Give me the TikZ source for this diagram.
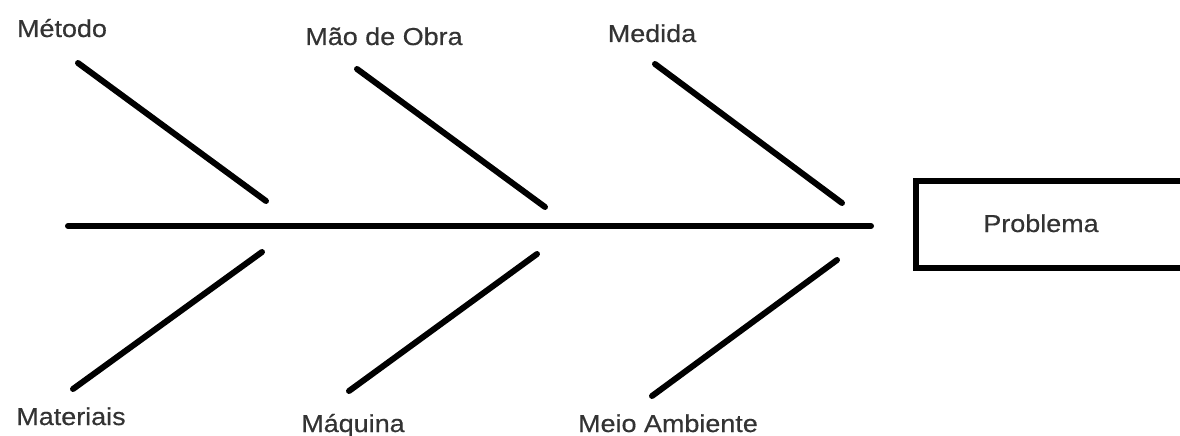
\documentclass[tikz,border=0pt]{standalone}
\usepackage{fontspec}
\setmainfont{Liberation Sans}[FakeStretch=1.1,FakeBold=0.5]
\begin{document}
\begin{tikzpicture}[x=1pt,y=-1pt,
  bone/.style={line width=6pt,line cap=round,black},
  lbl/.style={anchor=base,inner sep=0pt,text=black!80,font=\fontsize{24.5}{29}\selectfont},
  frame/.style={line width=5.5pt,black}]
\useasboundingbox (0,0) rectangle (1180,436);
\clip (0,0) rectangle (1180,436);
% spine
\coordinate (s0) at (68,226);
\coordinate (s1) at (871,226);
\draw[bone] (s0) -- (s1);
% upper bones
\coordinate (u1a) at (78,63);  \coordinate (u1b) at (266,201);
\coordinate (u2a) at (357,69); \coordinate (u2b) at (545,207);
\coordinate (u3a) at (655,64); \coordinate (u3b) at (842,203);
\draw[bone] (u1a) -- (u1b);
\draw[bone] (u2a) -- (u2b);
\draw[bone] (u3a) -- (u3b);
% lower bones
\coordinate (l1a) at (262,252); \coordinate (l1b) at (73,389);
\coordinate (l2a) at (537,254); \coordinate (l2b) at (349,391);
\coordinate (l3a) at (837,260); \coordinate (l3b) at (652,396);
\draw[bone] (l1a) -- (l1b);
\draw[bone] (l2a) -- (l2b);
\draw[bone] (l3a) -- (l3b);
% problem box
\coordinate (b0) at (916,181);
\coordinate (b1) at (1195,268);
\draw[frame] (b0) rectangle (b1);
% labels
\node[lbl] (metodo) at (62,37) {Método};
\node[lbl] (maoobra) at (384,45) {Mão de Obra};
\node[lbl] (medida) at (652,42) {Medida};
\node[lbl] (materiais) at (71,425) {Materiais};
\node[lbl] (maquina) at (353,432) {Máquina};
\node[lbl] (meio) at (668,432) {Meio Ambiente};
\node[lbl] (problema) at (1041,232) {Problema};
\end{tikzpicture}
\end{document}
